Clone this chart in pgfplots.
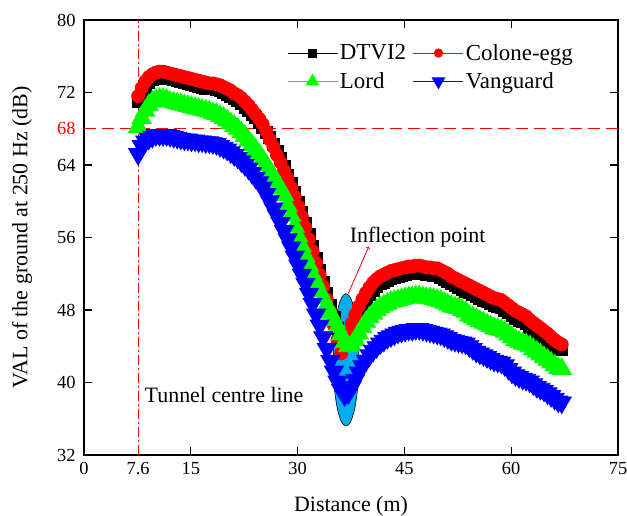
\documentclass[border=0pt]{standalone}
\usepackage{fontspec}
\setmainfont{Liberation Serif}
\usepackage{pgfplots}
\usepackage{pgfplotstable}
\pgfplotsset{compat=1.18}
\usetikzlibrary{calc}

\pgfplotstableread{
x k r g b
7.6 71.0 71.6 68.2 65.2
8.1 71.9 72.5 69.2 66.1
8.6 72.6 73.2 70.0 66.6
9.1 73.1 73.7 70.6 66.9
9.6 73.4 74.0 71.0 67.1
10.1 73.6 74.2 71.2 67.3
10.6 73.7 74.3 71.3 67.3
11.1 73.7 74.3 71.3 67.3
11.6 73.6 74.2 71.2 67.3
12.1 73.5 74.1 71.0 67.2
12.6 73.4 74.0 70.9 67.1
13.1 73.3 73.9 70.8 67.0
13.6 73.2 73.8 70.7 66.9
14.1 73.1 73.7 70.6 66.8
14.6 73.0 73.6 70.5 66.8
15.1 72.9 73.5 70.4 66.7
15.6 72.8 73.4 70.3 66.7
16.1 72.7 73.3 70.2 66.6
16.6 72.6 73.2 70.1 66.6
17.1 72.5 73.1 70.0 66.5
17.6 72.4 73.0 69.9 66.5
18.1 72.4 73.0 69.7 66.4
18.6 72.3 72.9 69.6 66.3
19.1 72.2 72.8 69.4 66.1
19.6 72.0 72.6 69.2 65.9
20.1 71.8 72.4 68.9 65.7
20.6 71.6 72.2 68.6 65.4
21.1 71.3 71.9 68.3 65.1
21.6 71.1 71.7 68.0 64.8
22.1 70.8 71.4 67.6 64.4
22.6 70.4 71.0 67.2 64.0
23.1 70.0 70.6 66.7 63.6
23.6 69.6 70.1 66.2 63.1
24.1 69.2 69.6 65.7 62.6
24.6 68.7 69.1 65.2 62.1
25.1 68.2 68.5 64.6 61.5
25.6 67.6 67.7 64.0 60.8
26.1 67.0 66.8 63.4 60.0
26.6 66.3 66.0 62.7 59.2
27.1 65.5 65.1 62.1 58.4
27.6 64.7 64.3 61.4 57.6
28.1 63.8 63.4 60.7 56.7
28.6 62.9 62.5 59.5 55.8
29.1 62.0 61.5 58.4 54.9
29.6 61.0 60.5 57.2 53.9
30.1 59.9 59.4 56.1 52.9
30.6 58.8 58.3 55.0 51.9
31.1 57.6 57.1 53.9 50.9
31.6 56.3 55.8 52.9 49.8
32.1 55.0 54.5 51.9 48.7
32.6 53.7 53.2 51.0 47.5
33.1 52.4 51.9 50.1 46.3
33.6 51.1 50.6 49.3 45.0
34.1 49.8 49.2 48.5 43.7
34.6 48.5 47.8 47.7 42.4
35.1 47.2 46.3 46.9 41.2
35.6 46.0 44.7 46.1 40.1
36.1 45.1 43.2 45.3 39.2
36.6 44.6 44.0 44.5 38.6
37.1 44.6 45.3 44.0 38.8
37.6 45.3 46.5 44.1 39.5
38.1 46.5 47.5 44.7 40.3
38.6 47.5 48.4 45.4 41.1
39.1 48.4 49.2 46.1 41.8
39.6 49.1 49.9 46.7 42.4
40.1 49.7 50.5 47.2 43.0
40.6 50.2 51.0 47.6 43.5
41.1 50.6 51.4 48.0 43.9
41.6 50.9 51.7 48.3 44.3
42.1 51.1 51.9 48.5 44.6
42.6 51.3 52.1 48.7 44.9
43.1 51.5 52.3 48.9 45.1
43.6 51.6 52.4 49.0 45.3
44.1 51.7 52.5 49.1 45.5
44.6 51.8 52.6 49.2 45.6
45.1 51.9 52.7 49.3 45.7
45.6 52.0 52.8 49.4 45.8
46.1 52.0 52.8 49.4 45.8
46.6 52.1 52.9 49.5 45.9
47.1 52.1 52.9 49.5 45.9
47.6 52.0 52.8 49.4 45.8
48.1 51.9 52.7 49.3 45.7
48.6 51.9 52.7 49.3 45.6
49.1 51.8 52.6 49.2 45.5
49.6 51.8 52.6 49.1 45.4
50.1 51.6 52.4 49.0 45.3
50.6 51.4 52.2 48.8 45.1
51.1 51.2 52.0 48.6 44.9
51.6 50.9 51.7 48.4 44.7
52.1 50.7 51.5 48.3 44.6
52.6 50.5 51.3 48.2 44.5
53.1 50.3 51.1 48.0 44.4
53.6 50.1 50.9 47.8 44.3
54.1 49.9 50.7 47.4 44.0
54.6 49.7 50.5 47.2 43.7
55.1 49.5 50.3 47.0 43.4
55.6 49.3 50.1 46.8 43.2
56.1 49.1 49.9 46.6 43.0
56.6 48.9 49.7 46.4 42.8
57.1 48.7 49.5 46.2 42.6
57.6 48.5 49.3 46.0 42.4
58.1 48.4 49.2 45.9 42.3
58.6 48.3 49.1 45.8 42.2
59.1 48.0 48.8 45.6 41.9
59.6 47.7 48.5 45.3 41.5
60.1 47.4 48.2 45.0 41.1
60.6 47.1 47.9 44.7 40.8
61.1 46.9 47.7 44.5 40.6
61.6 46.7 47.5 44.3 40.4
62.1 46.5 47.3 44.2 40.3
62.6 46.1 46.9 44.0 40.1
63.1 45.8 46.6 43.7 39.8
63.6 45.5 46.3 43.4 39.5
64.1 45.2 46.0 43.1 39.3
64.6 44.9 45.7 42.8 39.1
65.1 44.6 45.4 42.5 38.8
65.6 44.3 45.0 42.2 38.5
66.1 44.0 44.7 41.9 38.2
66.6 43.7 44.4 41.6 37.9
67.1 43.6 44.2 41.5 37.8
}\datatable

\begin{document}
\begin{tikzpicture}
\begin{axis}[
  name=ax,
  scale only axis, width=534bp, height=435bp,
  xmin=0, xmax=75, ymin=32, ymax=80,
  xtick={0,15,30,45,60,75},
  extra x ticks={7.6},
  extra x tick style={major tick length=0pt},
  ytick={32,40,48,56,64,72,80},
  extra y ticks={68},
  extra y tick style={yticklabel style={text=red}, tick style={red}},
  tick align=inside, major tick length=8bp,
  axis line style={line width=1.3bp},
  tick style={line width=1.2bp, black},
  /pgf/number format/assume math mode=true,
  tick label style={font=\fontsize{18.5}{20}\selectfont},
  xticklabel style={yshift=-4bp},
  yticklabel style={xshift=-5bp},
  label style={font=\fontsize{22}{24}\selectfont},
  xlabel={Distance (m)},
  ylabel={VAL of the ground at 250 Hz (dB)},
  xlabel style={at={(axis description cs:0.5,0)}, yshift=-51bp, anchor=center},
  ylabel style={at={(axis description cs:-0.116,0.5)}, anchor=center},
  legend columns=2,
  legend cell align=left,
  legend style={at={(axis description cs:0.380,0.949)}, anchor=north west, draw=none, fill=none,
    font=\fontsize{23}{25}\selectfont, inner sep=0bp, row sep=7bp,
    /tikz/every even column/.append style={column sep=5bp}},
  legend image code/.code={\draw[mark repeat=2, mark phase=2, every mark/.append style={scale=0.65}] plot coordinates {(0bp,0bp) (25bp,0bp) (50bp,0bp)};},
]
\draw[red, dash pattern=on 12bp off 6bp, line width=1.3bp] (axis cs:0,68) -- (axis cs:75,68);
\draw[red, dash pattern=on 10bp off 3bp on 2bp off 3bp, line width=1.1bp] (axis cs:7.6,32) -- (axis cs:7.6,80);
\draw[black, fill=cyan, line width=0.6bp] (axis cs:36.8,42.5) ellipse [x radius=1.8, y radius=7.3];

\addplot[black, line width=0.8bp, mark=square*, mark size=6bp, mark options={solid, fill=black}] table[x=x, y=k] {\datatable};
\addlegendentry{DTVI2}
\addplot[red, line width=0.8bp, mark=*, mark size=6.5bp, mark options={solid, fill=red}] table[x=x, y=r] {\datatable};
\addlegendentry{Colone-egg}
\addplot[green, line width=0.8bp, mark=triangle*, mark size=11bp, mark options={solid, fill=green}] table[x=x, y=g] {\datatable};
\addlegendentry{Lord}
\addplot[blue, line width=0.8bp, mark=triangle*, mark size=11bp, mark options={solid, fill=blue, rotate=180}] table[x=x, y=b] {\datatable};
\addlegendentry{Vanguard}

\draw[red, ->, line width=0.8bp] (axis cs:37.1,49.8) -- (axis cs:40.0,55.0);
\node[anchor=west, font=\fontsize{22}{24}\selectfont, inner sep=0pt] at (axis cs:37.3,56.0) {Inflection point};
\node[anchor=west, font=\fontsize{22}{24}\selectfont, inner sep=0pt] at (axis cs:8.5,38.6) {Tunnel centre line};
\end{axis}
\pgfresetboundingbox
\path ($(ax.south west)+(-84bp,-61bp)$) rectangle ($(ax.north east)+(9bp,20bp)$);
\end{tikzpicture}
\end{document}
